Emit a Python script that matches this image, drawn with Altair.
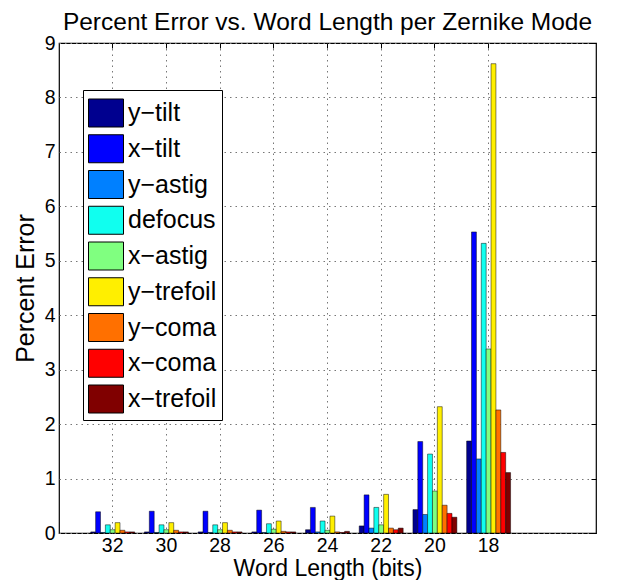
import altair as alt
import pandas as pd

title_text = "Percent Error vs. Word Length per Zernike Mode"
word_lengths = ["32", "30", "28", "26", "24", "22", "20", "18"]
modes = ["y−tilt", "x−tilt", "y−astig", "defocus", "x−astig",
         "y−trefoil", "y−coma", "x−coma", "x−trefoil"]
colors = ["#00008F", "#0000FF", "#0080FF", "#10FFEF", "#80FF80",
          "#FFEF00", "#FF7000", "#FF0000", "#800000"]

y_tilt    = [0.02, 0.02, 0.02, 0.02, 0.06, 0.13, 0.43, 1.69]
x_tilt    = [0.39, 0.40, 0.40, 0.42, 0.47, 0.70, 1.68, 5.53]
y_astig   = [0.01, 0.01, 0.01, 0.01, 0.02, 0.09, 0.34, 1.36]
defocus   = [0.15, 0.15, 0.15, 0.17, 0.22, 0.47, 1.45, 5.32]
x_astig   = [0.06, 0.06, 0.06, 0.07, 0.05, 0.15, 0.77, 3.38]
y_trefoil = [0.19, 0.19, 0.19, 0.22, 0.31, 0.71, 2.32, 8.62]
y_coma    = [0.05, 0.05, 0.05, 0.03, 0.02, 0.09, 0.51, 2.26]
x_coma    = [0.02, 0.02, 0.02, 0.02, 0.01, 0.06, 0.36, 1.48]
x_trefoil = [0.02, 0.02, 0.02, 0.02, 0.03, 0.09, 0.29, 1.11]

series = [y_tilt, x_tilt, y_astig, defocus, x_astig,
          y_trefoil, y_coma, x_coma, x_trefoil]

rows = []
for mode, vals in zip(modes, series):
    for wl, v in zip(word_lengths, vals):
        rows.append({"wl": wl, "mode": mode, "err": v})
df = pd.DataFrame(rows)

FONT = "Liberation Sans"
W, H = 537, 490

x_scale = alt.Scale(domain=word_lengths, paddingInner=0, paddingOuter=1, align=0.25)
y_scale = alt.Scale(domain=[0, 9], nice=False)
off_scale = alt.Scale(paddingInner=0, paddingOuter=1)

bars = alt.Chart(df).mark_bar(stroke="black", strokeWidth=0.6, strokeOpacity=0.8).encode(
    x=alt.X("wl:N", scale=x_scale, sort=word_lengths,
            axis=alt.Axis(title="Word Length (bits)", labelAngle=0, grid=True,
                          bandPosition=0.5, tickSize=0, domain=False,
                          labelPadding=3, titleBaseline="alphabetic", titleY=42,
                          titleFontSize=23,
                          gridDash=[1.5, 4], gridColor="#777777", gridWidth=1)),
    xOffset=alt.XOffset("mode:N", sort=modes, scale=off_scale),
    y=alt.Y("err:Q", scale=y_scale,
            axis=alt.Axis(title="Percent Error", values=list(range(10)),
                          grid=True, tickSize=0, domain=False,
                          labelPadding=4, titlePadding=6,
                          gridDash=[1.5, 4], gridColor="#777777", gridWidth=1)),
    color=alt.Color("mode:N", sort=modes,
                    scale=alt.Scale(domain=modes, range=colors),
                    legend=alt.Legend(
                        title=None,
                        orient="none", legendX=24, legendY=47,
                        symbolType="M-1,-0.8H1V0.8H-1Z", symbolSize=1225,
                        symbolStrokeColor="black", symbolStrokeWidth=1,
                        symbolOpacity=1,
                        labelFontSize=25, labelFont=FONT, labelColor="black",
                        labelOffset=4, rowPadding=1.75, padding=5,
                        strokeColor="black", fillColor="white")),
)

ticks = alt.Chart(df).mark_bar(opacity=0).encode(
    x=alt.X("wl:N", scale=x_scale, sort=word_lengths,
            axis=alt.Axis(orient="top", title=None, labels=False, grid=False,
                          domain=False, bandPosition=0.5, tickSize=5, offset=-5,
                          minExtent=0, maxExtent=5, tickColor="black")),
    xOffset=alt.XOffset("mode:N", sort=modes, scale=off_scale),
    y=alt.Y("err:Q", scale=y_scale,
            axis=alt.Axis(orient="right", title=None, labels=False, grid=False,
                          domain=False, values=list(range(10)), tickSize=5,
                          minExtent=0, maxExtent=5,
                          offset=-5, tickColor="black")),
)

title = alt.Chart(pd.DataFrame({"t": [title_text]})).mark_text(
    font=FONT, fontSize=24.5, color="black", align="center", baseline="alphabetic",
).encode(x=alt.value(W / 2), y=alt.value(-13), text="t:N")

chart = alt.layer(bars, ticks, title).resolve_axis(
    x="independent", y="independent"
).properties(
    width=W, height=H,
    autosize=alt.AutoSizeParams(type="none"),
    padding={"left": 51, "top": 35, "right": 15, "bottom": 47},
).configure_view(stroke="black", strokeWidth=1.2).configure_axis(
    labelFont=FONT, titleFont=FONT, labelFontSize=19.5, titleFontSize=25,
    titleFontWeight="normal", labelColor="black", titleColor="black",
)

chart.save("out.html", embed_options={"renderer": "svg", "actions": False})
